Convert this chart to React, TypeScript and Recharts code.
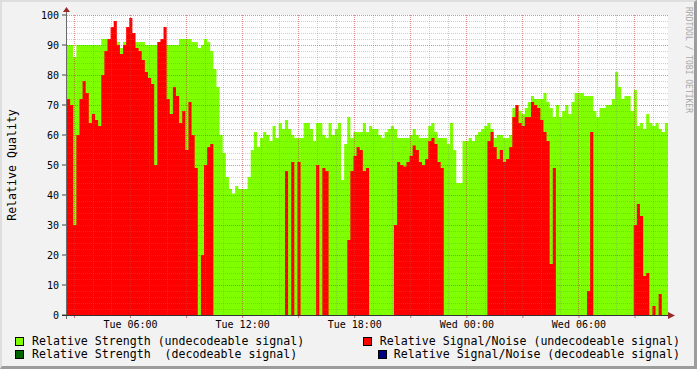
import React from "react";
import { ComposedChart, Area, XAxis, YAxis, CartesianGrid } from "recharts";

// minutes since Tue 00:00, one sample every 10 minutes
const START_MIN = 156;
const STEP_MIN = 10;

const strength = [
  90, 90, 86, 90, 90, 90, 90, 90, 90, 90, 90, 92, 92, 92, 92, 92, 91, 89, 91, 91,
  91, 91, 91, 91, 91, 90, 90, 90, 90, 90, 90, 90, 90, 90, 90, 90, 92, 92, 92, 92,
  91, 91, 89, 90, 92, 91, 88, 82, 76, 60, 54, 46, 42, 40.5, 43, 42, 42, 42, 46, 55,
  61, 56, 59, 61, 60, 58, 63, 59, 64, 62, 65, 62, 60, 59, 59, 59, 64, 64, 62, 58,
  64, 64, 60, 59, 64, 60, 62, 64, 45, 57, 66, 59, 61, 61, 61, 64, 61, 63, 62, 62,
  60, 59, 61, 62, 63, 62, 59, 59, 59, 59, 60, 62, 60, 59, 59, 59, 63, 64, 61, 59,
  59, 59, 57, 64, 55, 44, 44, 58, 58, 59, 58, 60, 61, 62, 63, 64, 62, 59, 60, 60,
  59, 59, 60, 69, 70, 68, 67, 69, 71, 73, 72, 72, 72, 74, 71, 69, 66, 70, 66, 68,
  70, 67, 71, 74, 74, 74, 73, 73, 73, 68, 66, 69, 69, 70, 70, 72, 81, 76, 72, 73,
  73, 68, 75, 63, 64, 62, 67, 64, 63, 64, 62, 61, 64,
];

const signalNoise = [
  72, 70, 30, 60, 72, 78, 74, 64, 67, 65, 63, 80, 88, 92, 96, 98, 90, 87, 90, 96,
  99, 94, 89, 88, 85, 81, 79, 77, 50, 91, 92, 96, 72, 67, 76, 73, 64, 68, 55, 71,
  60, 49, 0, 20, 50, 56, 57, 0, 0, 0, 0, 0, 0, 0, 0, 0, 0, 0, 0, 0,
  0, 0, 0, 0, 0, 0, 0, 0, 0, 0, 48, 0, 51, 0, 51, 0, 0, 0, 0, 0,
  50, 0, 49, 48, 0, 0, 0, 0, 0, 0, 25, 48, 53, 56, 55, 48, 49, 0, 0, 0,
  0, 0, 0, 0, 0, 30, 51, 50, 49.5, 51, 53, 56.5, 55, 51, 50, 52, 58, 59, 57, 51,
  49, 0, 0, 0, 0, 0, 0, 0, 0, 0, 0, 0, 0, 0, 0, 58, 61, 56, 52, 55,
  51, 52, 56, 66, 70, 64, 63, 66, 66, 71, 70, 69, 65, 61, 58, 17, 49, 0, 0, 0,
  0, 0, 0, 0, 0, 0, 0, 8, 61, 0, 0, 0, 0, 0, 0, 0, 0, 0, 0, 0,
  0, 0, 30, 37, 33, 13, 14, 0, 3, 0, 7, 0, 0,
];

const qualityTicks = [0, 10, 20, 30, 40, 50, 60, 70, 80, 90, 100];
const timeTicks = [180, 360, 540, 720, 900, 1080, 1260, 1440, 1620, 1800, 1980];
const labelTicks = [360, 720, 1080, 1440, 1800];
const labelText = ["Tue 06:00", "Tue 12:00", "Tue 18:00", "Wed 00:00", "Wed 06:00"];

const minorY = Array.from({ length: 51 }, (_, i) => i * 2);
const minorX = Array.from({ length: 33 }, (_, i) => 180 + i * 60).filter((v) => v < 2086);

const rows = strength.map((g, i) => ({ t: START_MIN + i * STEP_MIN, g, r: signalNoise[i] }));
// closing edge for the last step
rows.push({ t: START_MIN + strength.length * STEP_MIN, g: strength[strength.length - 1], r: signalNoise[signalNoise.length - 1] });

const X_DOMAIN: [number, number] = [START_MIN, START_MIN + strength.length * STEP_MIN];
const W = 697;
const H = 369;
const MARGIN = { top: 15, right: 29, left: 7, bottom: 24 };
const MONO = "'DejaVu Sans Mono', monospace";

function fmtTime(v: number) {
  const k = labelTicks.indexOf(v);
  return k >= 0 ? labelText[k] : "";
}

function Axes({ show }: { show: boolean }) {
  return [
    <XAxis
      key="x"
      dataKey="t"
      type="number"
      domain={X_DOMAIN}
      ticks={timeTicks}
      tickFormatter={fmtTime}
      height={30}
      axisLine={false}
      tickLine={show ? { stroke: "#d07070" } : false}
      tickSize={3}
      tickMargin={3}
      tick={show ? { fontFamily: MONO, fontSize: 10, fill: "#000" } : false}
      interval={0}
    />,
    <YAxis
      key="y"
      type="number"
      domain={[0, 100]}
      ticks={qualityTicks}
      width={60}
      axisLine={false}
      tickLine={show ? { stroke: "#444" } : false}
      tickSize={5}
      tickMargin={3}
      tick={show ? { fontFamily: MONO, fontSize: 10, fill: "#000" } : false}
      interval={0}
    />,
  ];
}

function LegendBox({ color }: { color: string }) {
  return (
    <span
      style={{
        display: "inline-block",
        width: 7,
        height: 7,
        background: color,
        border: "1px solid #000",
      }}
    />
  );
}

export default function App() {
  const legendText: React.CSSProperties = {
    fontFamily: MONO,
    fontSize: 11.6,
    whiteSpace: "pre",
    lineHeight: "13px",
    color: "#000",
  };
  return (
    <div
      style={{
        position: "absolute",
        left: 0,
        top: 0,
        width: W,
        height: H,
        background: "#f2f2f2",
        boxSizing: "border-box",
        borderTop: "2px solid #dedede",
        borderLeft: "2px solid #dedede",
        borderRight: "3px solid #9c9c9c",
        borderBottom: "3px solid #9c9c9c",
        overflow: "hidden",
      }}
    >
      <div style={{ position: "absolute", left: -2, top: -2, width: W, height: H }}>
        <div style={{ position: "absolute", left: 67, top: 15, width: 601, height: 300, background: "#fff" }} />
        <div style={{ position: "absolute", left: 0, top: 0 }}>
          <ComposedChart width={W} height={H} data={rows} margin={MARGIN}>
            {Axes({ show: false })}
            <Area
              type="stepAfter"
              dataKey="g"
              stroke="none"
              fill="#80ff00"
              fillOpacity={1}
              dot={false}
              activeDot={false}
              isAnimationActive={false}
            />
            <Area
              type="stepAfter"
              dataKey="r"
              stroke="none"
              fill="#ff0000"
              fillOpacity={1}
              dot={false}
              activeDot={false}
              isAnimationActive={false}
            />
          </ComposedChart>
        </div>
        <div style={{ position: "absolute", left: 0, top: 0 }}>
          <ComposedChart width={W} height={H} data={rows} margin={MARGIN}>
            <CartesianGrid
              horizontalValues={minorY}
              verticalValues={minorX}
              stroke="#808080"
              strokeOpacity={0.38}
              strokeDasharray="1 1"
              shapeRendering="crispEdges"
            />
            <CartesianGrid
              horizontalValues={qualityTicks}
              verticalValues={timeTicks}
              stroke="#ff0000"
              strokeOpacity={0.3}
              strokeDasharray="1 1"
              shapeRendering="crispEdges"
            />
            {Axes({ show: true })}
            {/* invisible series so the overlay axes get the same scales */}
            <Area
              type="stepAfter"
              dataKey="g"
              stroke="none"
              fill="none"
              dot={false}
              activeDot={false}
              isAnimationActive={false}
            />
          </ComposedChart>
        </div>
        <svg width={W} height={H} style={{ position: "absolute", left: 0, top: 0 }}>
          <line x1={66.5} y1={9} x2={66.5} y2={319} stroke="#6a6a6a" />
          <line x1={62} y1={315.5} x2={671} y2={315.5} stroke="#333" />
          <polygon points="63,12 70,12 66.5,7" fill="#9a2a2a" />
          <polygon points="668,312 668,319 675,315.5" fill="#9a2a2a" />
        </svg>
        <div
          style={{
            position: "absolute",
            left: 12,
            top: 165,
            transform: "translate(-50%, -50%) rotate(-90deg)",
            fontFamily: MONO,
            fontSize: 11.6,
            whiteSpace: "pre",
          }}
        >
          Relative Quality
        </div>
        <div
          style={{
            position: "absolute",
            left: 688,
            top: 60,
            transform: "translate(-50%, -50%) rotate(90deg)",
            fontFamily: MONO,
            fontSize: 8,
            color: "#a8a8a8",
            whiteSpace: "pre",
          }}
        >
          RRDTOOL / TOBI OETIKER
        </div>
        <div style={{ position: "absolute", left: 15, top: 335, display: "flex", alignItems: "center", gap: 8 }}>
          <LegendBox color="#80ff00" />
          <span style={legendText}>Relative Strength (undecodeable signal)</span>
        </div>
        <div style={{ position: "absolute", left: 15, top: 348, display: "flex", alignItems: "center", gap: 8 }}>
          <LegendBox color="#006400" />
          <span style={legendText}>Relative Strength  (decodeable signal)</span>
        </div>
        <div style={{ position: "absolute", right: 17, top: 335, display: "flex", alignItems: "center", gap: 8 }}>
          <LegendBox color="#ff0000" />
          <span style={legendText}>Relative Signal/Noise (undecodeable signal)</span>
        </div>
        <div style={{ position: "absolute", right: 17, top: 348, display: "flex", alignItems: "center", gap: 7 }}>
          <LegendBox color="#000080" />
          <span style={legendText}>Relative Signal/Noise (decodeable signal)</span>
        </div>
      </div>
    </div>
  );
}
